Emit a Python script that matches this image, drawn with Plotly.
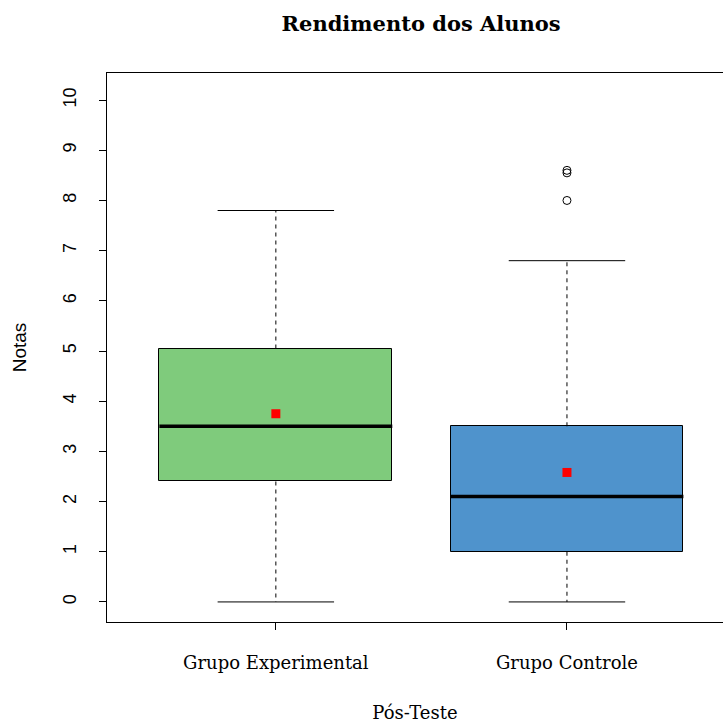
import plotly.graph_objects as go

# Summary statistics per group (Pós-Teste)
groups = ["Grupo Experimental", "Grupo Controle"]
lower_whisker = [0.0, 0.0]
q1 = [2.4, 1.0]
median = [3.5, 2.1]
q3 = [5.05, 3.5]
upper_whisker = [7.8, 6.8]
means = [3.75, 2.58]
outliers = [[], [8.0, 8.55, 8.6]]
fill_colors = ["#7FCB7C", "#4F93CC"]

y_ticks = list(range(0, 11))

box_width = 0.8
cap_half = box_width / 4
serif = "DejaVu Serif"
sans = "Liberation Sans"

pos = [i + 1 for i in range(len(groups))]

fig = go.Figure()

# Boxes (Q1 to Q3)
fig.add_trace(go.Bar(
    x=pos, base=q1, y=[b - a for a, b in zip(q1, q3)],
    width=box_width, marker=dict(color=fill_colors, line=dict(color="black", width=1)),
    showlegend=False, hoverinfo="skip",
))

# Dashed whiskers
wx, wy = [], []
for p, lo, a, b, hi in zip(pos, lower_whisker, q1, q3, upper_whisker):
    wx += [p, p, None, p, p, None]
    wy += [b, hi, None, a, lo, None]
fig.add_trace(go.Scatter(x=wx, y=wy, mode="lines",
                         line=dict(color="black", width=1, dash="4px,4px"),
                         showlegend=False, hoverinfo="skip"))

# Whisker caps
cx, cy = [], []
for p, lo, hi in zip(pos, lower_whisker, upper_whisker):
    cx += [p - cap_half, p + cap_half, None, p - cap_half, p + cap_half, None]
    cy += [hi, hi, None, lo, lo, None]
fig.add_trace(go.Scatter(x=cx, y=cy, mode="lines",
                         line=dict(color="black", width=1),
                         showlegend=False, hoverinfo="skip"))

# Medians
mx, my = [], []
for p, m in zip(pos, median):
    mx += [p - box_width / 2, p + box_width / 2, None]
    my += [m, m, None]
fig.add_trace(go.Scatter(x=mx, y=my, mode="lines",
                         line=dict(color="black", width=3.5),
                         showlegend=False, hoverinfo="skip"))

# Outliers
ox, oy = [], []
for p, outs in zip(pos, outliers):
    ox += [p] * len(outs)
    oy += outs
fig.add_trace(go.Scatter(x=ox, y=oy, mode="markers",
                         marker=dict(symbol="circle-open", size=8,
                                     color="black", line=dict(width=1)),
                         showlegend=False))

# Means
fig.add_trace(go.Scatter(x=pos, y=means, mode="markers",
                         marker=dict(symbol="square", size=9, color="#FF0000"),
                         showlegend=False))

fig.update_layout(
    width=723, height=723,
    margin=dict(l=107, r=0, t=73, b=101),
    paper_bgcolor="white", plot_bgcolor="white",
    title=dict(text="<b>Rendimento dos Alunos</b>", xref="paper", x=0.51, xanchor="center",
               y=1 - 24 / 723, yanchor="middle",
               font=dict(family=serif, size=21, color="black")),
    bargap=0,
)

fig.update_xaxes(
    range=[0.42, 2.536], tickvals=pos, ticktext=groups,
    showline=True, mirror=True, linecolor="black", linewidth=1,
    ticks="outside", ticklen=7, tickcolor="black",
    showgrid=False, zeroline=False, ticklabelstandoff=17,
    tickfont=dict(family=serif, size=18, color="black"),
    title=dict(text="Pós-Teste", font=dict(family=serif, size=18, color="black"), standoff=36),
)
fig.update_yaxes(
    range=[-0.4, 10.54], tickvals=y_ticks,
    showline=True, mirror=False, linecolor="black", linewidth=1,
    ticks="outside", ticklen=7, tickcolor="black",
    showgrid=False, zeroline=False, tickangle=-90, ticklabelstandoff=16,
    tickfont=dict(family=sans, size=18, color="black"),
    title=dict(text="Notas", font=dict(family=sans, size=19, color="black"), standoff=28),
)

fig.write_html("out.html")
